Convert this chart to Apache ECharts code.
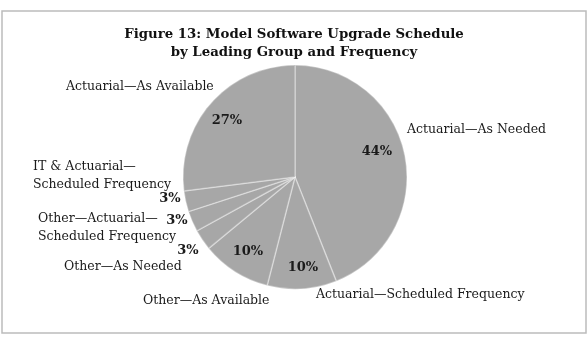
<!DOCTYPE html>
<html>
<head>
<meta charset="utf-8">
<script src="https://cdn.jsdelivr.net/npm/echarts@6/dist/echarts.min.js"></script>
<style>
  html, body { margin: 0; padding: 0; background: #fff; }
  #main { width: 588px; height: 343px; }
</style>
</head>
<body>
<div id="main"></div>
<script>
// slices, clockwise from 12 o'clock
var names = [
  'Actuarial\u2014As Needed',
  'Actuarial\u2014Scheduled Frequency',
  'Other\u2014As Available',
  'Other\u2014As Needed',
  'Other\u2014Actuarial\u2014\nScheduled Frequency',
  'IT & Actuarial\u2014\nScheduled Frequency',
  'Actuarial\u2014As Available'
];
var values = [44, 10, 10, 3, 3, 3, 27];

// where the labels sit (Excel put them by hand)
var pctPos = [[377, 152], [303, 268], [248, 252], [188, 251], [177, 221], [170, 199], [227, 121]];
var namePos = [[407, 130], [316, 295], [143, 301], [64, 267], [38, 228], [33, 176], [66, 87]];

var serif = '"DejaVu Serif", "Liberation Serif", serif';

var chart = echarts.init(document.getElementById('main'));

var data = names.map(function (n, i) {
  return { name: n, value: values[i] };
});

var option = {
  animation: false,
  title: {
    text: 'Figure 13: Model Software Upgrade Schedule\nby Leading Group and Frequency',
    left: 'center',
    top: 21,
    textStyle: {
      fontFamily: serif,
      fontWeight: 'bold',
      fontSize: 13.3,
      lineHeight: 18,
      color: '#111'
    }
  },
  graphic: [{
    type: 'rect',
    shape: { x: 2, y: 11, width: 584, height: 322 },
    style: { fill: 'none', stroke: '#bcbcbc', lineWidth: 1.5 },
    silent: true
  }],
  series: [
    {
      // the pie itself with percent labels
      type: 'pie',
      center: [295, 177],
      radius: 112,
      startAngle: 90,
      data: data,
      itemStyle: {
        color: '#a7a7a7',
        borderColor: 'rgba(255,255,255,0.35)',
        borderWidth: 1.5
      },
      label: {
        show: true,
        position: 'inside',
        formatter: '{c}%',
        fontFamily: serif,
        fontWeight: 'bold',
        fontSize: 13,
        color: '#1a1a1a'
      },
      labelLine: { show: false },
      labelLayout: function (p) {
        var xy = pctPos[p.dataIndex];
        return { x: xy[0], y: xy[1], align: 'center', verticalAlign: 'middle' };
      },
      emphasis: { disabled: true }
    },
    {
      // invisible copy, only for the category names
      type: 'pie',
      center: [295, 177],
      radius: 112,
      startAngle: 90,
      silent: true,
      data: data,
      itemStyle: { color: 'rgba(0,0,0,0)' },
      label: {
        show: true,
        position: 'outside',
        formatter: '{b}',
        fontFamily: serif,
        fontSize: 12.5,
        lineHeight: 18,
        color: '#1a1a1a',
        overflow: 'none',
        width: 300
      },
      labelLine: { show: false },
      labelLayout: function (p) {
        var xy = namePos[p.dataIndex];
        return { x: xy[0], y: xy[1], align: 'left', verticalAlign: 'middle' };
      },
      emphasis: { disabled: true }
    }
  ]
};

chart.setOption(option);
</script>
</body>
</html>
